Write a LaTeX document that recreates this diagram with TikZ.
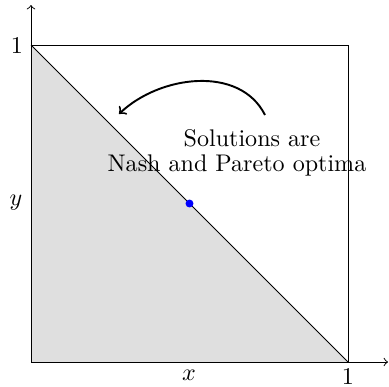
\documentclass[tikz,border=0pt]{standalone}
\begin{document}
\begin{tikzpicture}[x=0.4154pt,y=-0.4154pt,
  lbl/.style={inner sep=0pt},
  txtline/.style={inner sep=0pt,anchor=base},
  axis/.style={->},
  curvearrow/.style={->,thick}]
\useasboundingbox (0,0) rectangle (389,386);
\coordinate (O) at (31,362);
\coordinate (X1) at (348,362);
\coordinate (Y1) at (31,45);
\coordinate (T) at (348,45);
\coordinate (XE) at (388,362);
\coordinate (YE) at (31,5);
\fill[gray!25] (Y1) -- (O) -- (X1) -- cycle;
\draw (Y1) -- (T) -- (X1);
\draw (Y1) -- (X1);
\draw[axis] (O) -- (XE);
\draw[axis] (O) -- (YE);
\node[circle,fill=blue,inner sep=0pt,minimum size=3.3pt] (P) at (189.5,203.5) {};
\node[lbl] (l1y) at (17,45) {1};
\node[lbl] (l1x) at (348,376) {1};
\node[lbl] (lx) at (189,375) {$x$};
\node[lbl] (ly) at (16,203) {$y$};
\node[txtline] (t1) at (252,146) {Solutions are};
\node[txtline] (t2) at (237,171) {Nash and Pareto optima};
\coordinate (A0) at (265,115);
\coordinate (A1) at (119,114);
\draw[curvearrow] (A0) .. controls (240,65) and (160,75) .. (A1);
\end{tikzpicture}
\end{document}
